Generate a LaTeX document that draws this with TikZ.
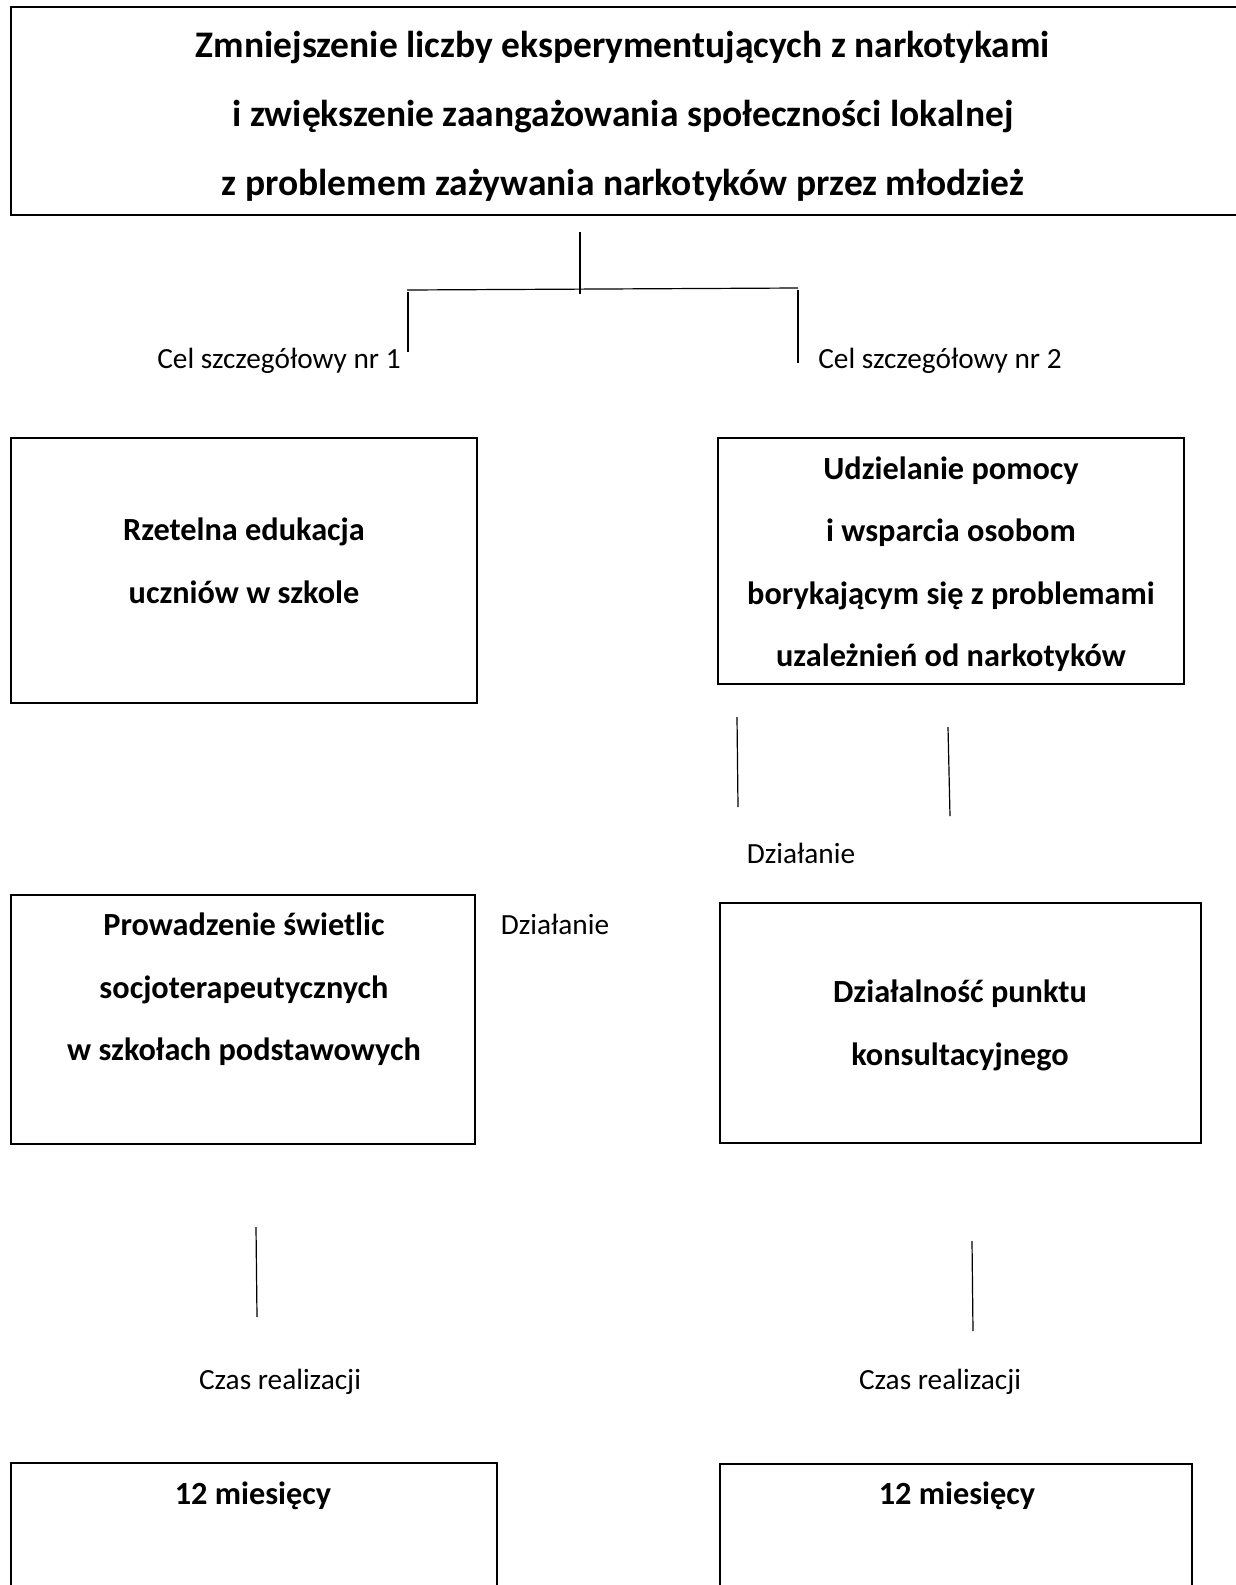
\documentclass[tikz,border=0pt]{standalone}
\usepackage{fontspec}
\setmainfont{Carlito}
\begin{document}
\begin{tikzpicture}[x=1pt,y=-1pt,
  frame/.style={draw, line width=1.6pt},
  box/.style={draw, line width=1.6pt, inner sep=0pt},
  bt/.style={font=\fontsize{32.3}{62.5}\selectfont\bfseries, align=center, inner sep=0pt},
  ttl/.style={font=\fontsize{37.5}{69}\selectfont\bfseries, align=center, inner sep=0pt},
  lbl/.style={font=\fontsize{29.3}{34}\selectfont, inner sep=0pt},
  conn/.style={line width=1.2pt}]
\useasboundingbox (0,0) rectangle (1236,1585);

% top box (open on the right)
\draw[frame] (1245,7) -- (11,7) -- (11,215) -- (1245,215);
\node[ttl] (toptext) at (623,116) {Zmniejszenie liczby eksperymentujących z narkotykami\\
i zwiększenie zaangażowania społeczności lokalnej\\
z problemem zażywania narkotyków przez młodzież};

% connector tree
\coordinate (t1) at (580,232);
\coordinate (t2) at (580,294);
\coordinate (hl) at (407,290);
\coordinate (hr) at (798,288);
\coordinate (l1) at (408,292);
\coordinate (l2) at (408,352);
\coordinate (r1) at (798,290);
\coordinate (r2) at (798,363);
\draw[conn] (t1) -- (t2);
\draw[conn] (hl) -- (hr);
\draw[conn] (l1) -- (l2);
\draw[conn] (r1) -- (r2);

\node[lbl] (cel1) at (279,361) {Cel szczegółowy nr 1};
\node[lbl] (cel2) at (940,361) {Cel szczegółowy nr 2};

% level 2 boxes
\node[box, minimum width=466pt, minimum height=265pt] (b1) at (244,570.5) {};
\node[bt] (b1t) at (244,561) {Rzetelna edukacja\\uczniów w szkole};

\node[box, minimum width=466pt, minimum height=246pt] (b2) at (951,561) {};
\node[bt] (b2t) at (951,564) {Udzielanie pomocy\\i wsparcia osobom\\borykającym się z problemami\\uzależnień od narkotyków};

% lines below b2
\coordinate (a1) at (737,717);
\coordinate (a2) at (738,807);
\coordinate (a3) at (948,727);
\coordinate (a4) at (950,816);
\draw[conn] (a1) -- (a2);
\draw[conn] (a3) -- (a4);
\node[lbl] (dz1) at (801,853) {Działanie};
\node[lbl] (dz2) at (555,924) {Działanie};

% level 3 boxes
\node[box, minimum width=464pt, minimum height=249pt] (c1) at (243,1019.5) {};
\node[bt] (c1t) at (244,989.5) {Prowadzenie świetlic\\socjoterapeutycznych\\w szkołach podstawowych};

\node[box, minimum width=481pt, minimum height=240pt] (c2) at (960.5,1023) {};
\node[bt] (c2t) at (960,1025.5) {Działalność punktu\\konsultacyjnego};

% lines below level 3
\coordinate (e1) at (256,1227);
\coordinate (e2) at (257,1317);
\coordinate (f1) at (972,1241);
\coordinate (f2) at (973,1331);
\draw[conn] (e1) -- (e2);
\draw[conn] (f1) -- (f2);
\node[lbl] (cz1) at (280,1382) {Czas realizacji};
\node[lbl] (cz2) at (940,1382) {Czas realizacji};

% bottom boxes (cut by page edge)
\draw[frame] (11,1600) -- (11,1463) -- (497,1463) -- (497,1600);
\draw[frame] (720,1600) -- (720,1464) -- (1192,1464) -- (1192,1600);
\node[bt] (d1t) at (253,1496) {12 miesięcy};
\node[bt] (d2t) at (957,1496) {12 miesięcy};
\end{tikzpicture}
\end{document}
